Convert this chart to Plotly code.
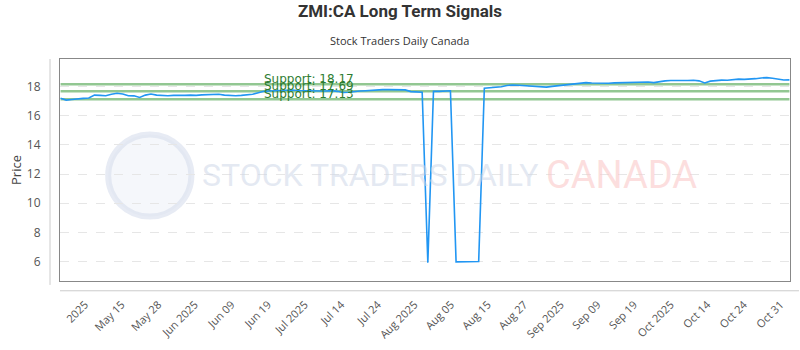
import plotly.graph_objects as go

title_text = "ZMI:CA Long Term Signals"
subtitle_text = "Stock Traders Daily Canada"

prices = [
    17.20, 17.08, 17.12, 17.18, 17.20, 17.22, 17.42, 17.40, 17.38, 17.48,
    17.55, 17.50, 17.38, 17.37, 17.26, 17.42, 17.50, 17.42, 17.38, 17.38,
    17.40, 17.38, 17.40, 17.42, 17.40, 17.44, 17.47, 17.50, 17.48, 17.42,
    17.38, 17.38, 17.40, 17.42, 17.48, 17.58, 17.68, 17.70, 17.72, 17.74,
    17.76, 17.77, 17.74, 17.72, 17.75, 17.72, 17.70, 17.70, 17.73, 17.68,
    17.60, 17.62, 17.68, 17.70, 17.72, 17.76, 17.78, 17.80, 17.80, 17.80,
    17.82, 17.78, 17.66, 17.64, 17.62, 5.92, 17.68, 17.68, 17.70, 17.72,
    5.97, 5.98, 5.99, 6.00, 6.00, 17.89, 17.92, 17.95, 18.00, 18.08,
    18.12, 18.10, 18.08, 18.05, 18.02, 17.98, 17.97, 18.02, 18.06, 18.10,
    18.15, 18.20, 18.27, 18.28, 18.25, 18.24, 18.22, 18.24, 18.26, 18.27,
    18.28, 18.30, 18.30, 18.30, 18.32, 18.28, 18.35, 18.40, 18.42, 18.44,
    18.42, 18.42, 18.44, 18.40, 18.26, 18.38, 18.44, 18.45, 18.44, 18.50,
    18.52, 18.50, 18.50, 18.55, 18.60, 18.62, 18.58, 18.52, 18.46, 18.47,
]

tick_labels = ["2025", "May 15", "May 28", "Jun 2025", "Jun 09", "Jun 19", "Jul 2025",
               "Jul 14", "Jul 24", "Aug 2025", "Aug 05", "Aug 15", "Aug 27", "Sep 2025",
               "Sep 09", "Sep 19", "Oct 2025", "Oct 14", "Oct 24", "Oct 31"]

support_levels = [18.17, 17.69, 17.13]
support_labels = ["Support: 18.17", "Support: 17.69", "Support: 17.13"]

x_idx = list(range(len(prices)))
tick_start = 4.34
tick_step = 6.478
tick_pos = [tick_start + tick_step * k for k in range(len(tick_labels))]

PL, PW, PH = 60, 731, 227  # plot area left / size in px

fig = go.Figure()

for lvl in support_levels:
    fig.add_trace(go.Scatter(
        x=[x_idx[0], x_idx[-1]], y=[lvl, lvl], mode="lines",
        line=dict(color="rgba(110,180,110,0.75)", width=2.5),
        hoverinfo="skip", showlegend=False))

fig.add_trace(go.Scatter(
    x=x_idx, y=prices, mode="lines",
    line=dict(color="#2196F3", width=1.6),
    showlegend=False))

label_x = (262 - 60.5) / 5.65
for lvl, txt in zip(support_levels, support_labels):
    fig.add_annotation(x=label_x, y=lvl, xref="x", yref="y", text=txt,
                       showarrow=False, xanchor="left", yanchor="bottom",
                       yshift=-4,
                       font=dict(family="DejaVu Sans", size=12, color="#2e7d32"))

# watermark
fig.add_shape(type="circle", xref="paper", yref="paper",
              x0=0.066, x1=0.18, y0=0.29, y1=0.66,
              line=dict(color="rgba(215,222,236,0.6)", width=6),
              fillcolor="rgba(236,240,247,0.5)", layer="below")
fig.add_annotation(x=(200 - PL) / PW, y=0.476, xref="paper", yref="paper",
                   xanchor="left",
                   text="STOCK TRADERS DAILY", showarrow=False,
                   font=dict(family="Roboto", size=32,
                             color="rgba(205,214,232,0.55)"))
fig.add_annotation(x=(545 - PL) / PW, y=0.476, xref="paper", yref="paper",
                   xanchor="left",
                   text="CANADA", showarrow=False,
                   font=dict(family="Roboto", size=38,
                             color="rgba(250,200,200,0.6)"))

# separate light axis lines
fig.add_shape(type="line", xref="paper", yref="paper",
              x0=-10 / PW, x1=-10 / PW, y0=-4 / PH, y1=1,
              line=dict(color="#cccccc", width=1))
fig.add_shape(type="line", xref="paper", yref="paper",
              x0=0, x1=740 / PW, y0=-10 / PH, y1=-10 / PH,
              line=dict(color="#cccccc", width=1))

# subtitle
fig.add_annotation(text=subtitle_text, x=(400 - PL) / PW, y=1 + (59 - 40) / PH,
                   xref="paper", yref="paper", showarrow=False,
                   yanchor="middle", xanchor="center",
                   font=dict(family="Open Sans", size=11, color="#333333"))

fig.update_layout(
    width=800, height=350,
    margin=dict(l=60, r=9, t=59, b=64),
    paper_bgcolor="white", plot_bgcolor="white",
    title=dict(text=f"<b>{title_text}</b>", x=0.5, xanchor="center",
               y=0.985, yanchor="top",
               font=dict(family="Roboto", size=17, color="#333333")),
    xaxis=dict(range=[-0.1, len(prices) - 0.9], tickvals=tick_pos, ticktext=tick_labels,
               tickangle=-45, showgrid=False, zeroline=False,
               showline=True, linecolor="#888888", linewidth=1, mirror=True,
               ticks="outside", ticklen=12, tickcolor="rgba(0,0,0,0)",
               tickfont=dict(family="Open Sans", size=11, color="#555555")),
    yaxis=dict(range=[4.66, 19.9], tickvals=[6, 8, 10, 12, 14, 16, 18],
               showgrid=True, gridcolor="#e6e6e6", griddash="dash",
               zeroline=False, showline=True, linecolor="#888888",
               linewidth=1, mirror=True,
               ticks="outside", ticklen=16, tickcolor="rgba(0,0,0,0)",
               tickfont=dict(family="Open Sans", size=12, color="#555555"),
               title=dict(text="Price", standoff=2,
                          font=dict(family="Open Sans", size=13, color="#444444"))),
)

fig.write_html("out.html")
